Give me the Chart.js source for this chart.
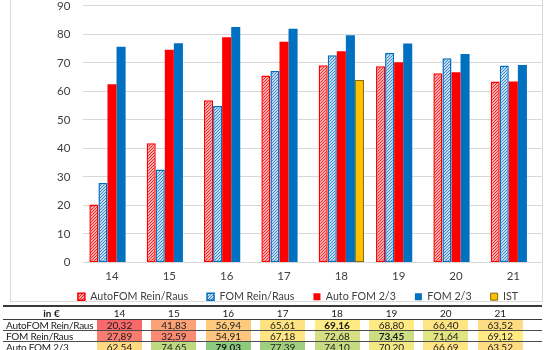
<!DOCTYPE html>
<html>
<head>
<meta charset="utf-8">
<script src="https://cdn.jsdelivr.net/npm/chart.js@4.4.0/dist/chart.umd.min.js"></script>
<style>
  html, body { margin: 0; padding: 0; width: 550px; height: 350px; overflow: hidden; background: #fff; font-family: Lato, sans-serif; }
  #frame { position: absolute; left: 10px; top: -2px; width: 533px; height: 304px; border: 1px solid #d9d9d9; box-sizing: border-box; }
  #chart { position: absolute; left: 0; top: -14px; z-index: 2; }
  #tbl { position: absolute; left: 3px; top: 305px; border-collapse: collapse; font-size: 10px; color: #1a1a1a; z-index: 3; }
  #tbl td { padding: 0; height: 10px; line-height: 10px; border-bottom: 1px solid #4d4d4d; white-space: nowrap; }
  #tbl tr.head td { height: 12px; line-height: 12px; border-top: 2px solid #3a3a3a; border-bottom: 1.5px solid #3a3a3a; }
  #tbl td.lbl { width: 94px; padding-left: 3px; box-sizing: border-box; letter-spacing: -0.25px; }
  #tbl tr.head td.lbl { text-align: center; font-weight: bold; letter-spacing: 0; }
  #tbl td.val { width: 54.4px; }
  #tbl td.val div { width: 45px; text-align: center; }
  #tbl td.tail { width: 10px; }
</style>
</head>
<body>
<div id="frame"></div>
<canvas id="chart" width="550" height="344"></canvas>
<table id="tbl"></table>
<script>
// data
const categories = ['14', '15', '16', '17', '18', '19', '20', '21'];
const seriesNames = ['AutoFOM Rein/Raus', 'FOM Rein/Raus', 'Auto FOM 2/3', 'FOM 2/3', 'IST'];
const autoFomReinRaus = [20.32, 41.83, 56.94, 65.61, 69.16, 68.80, 66.40, 63.52];
const fomReinRaus = [27.89, 32.59, 54.91, 67.18, 72.68, 73.45, 71.64, 69.12];
const autoFom23 = [62.54, 74.65, 79.03, 77.39, 74.10, 70.20, 66.69, 63.52];
const fom23 = [75.7, 76.9, 82.6, 82.0, 79.7, 76.8, 73.1, 69.3];
const ist = [null, null, null, null, 64.0, null, null, null];
const yTicks = [0, 10, 20, 30, 40, 50, 60, 70, 80, 90];
const tableHeader = 'in €';

const RED = '#ff0000';
const BLUE = '#0070c0';
const GOLD = '#ffc000';
const TXT = '#404040';

// small diagonal hatch like the excel pattern fill
function hatch(line, bg) {
  const c = document.createElement('canvas');
  c.width = 3; c.height = 3;
  const g = c.getContext('2d');
  g.fillStyle = bg;
  g.fillRect(0, 0, 3, 3);
  g.fillStyle = line;
  for (let i = 0; i < 3; i++) {
    g.fillRect(i, 2 - i, 1, 1);
  }
  return g.createPattern(c, 'repeat');
}

// legend sits closer to the axis labels and a little right of where chart.js puts it
const moveLegend = {
  id: 'moveLegend',
  afterLayout(chart) {
    const lg = chart.legend;
    lg.top -= 18;
    lg.bottom -= 18;
    lg.left += 5;
    lg.right += 5;
  }
};

const tickFont = { family: 'Lato', size: 11.5 };
const legendFont = { family: 'Lato', size: 10.7 };

new Chart(document.getElementById('chart'), {
  type: 'bar',
  data: {
    labels: categories,
    datasets: [
      { label: seriesNames[0], data: autoFomReinRaus, backgroundColor: hatch('#ff2020', '#f9b0b0'), borderColor: RED, borderWidth: 1.5, borderSkipped: false },
      { label: seriesNames[1], data: fomReinRaus, backgroundColor: hatch('#3a86cc', '#c4dcf0'), borderColor: BLUE, borderWidth: 1.5, borderSkipped: false },
      { label: seriesNames[2], data: autoFom23, backgroundColor: RED, borderWidth: 0 },
      { label: seriesNames[3], data: fom23, backgroundColor: BLUE, borderWidth: 0 },
      { label: seriesNames[4], data: ist, backgroundColor: GOLD, borderColor: '#8a6a00', borderWidth: 1, borderSkipped: false }
    ].map(d => Object.assign(d, { categoryPercentage: 0.79, barPercentage: 1 }))
  },
  options: {
    responsive: false,
    animation: false,
    layout: { padding: { left: 44, right: 8, top: 0, bottom: 0 } },
    scales: {
      x: {
        grid: { display: false, drawTicks: false },
        border: { display: false },
        ticks: { color: TXT, font: tickFont, padding: 7 }
      },
      y: {
        min: 0,
        max: 90,
        afterBuildTicks: (s) => { s.ticks = yTicks.map(v => ({ value: v })); },
        grid: { color: '#d9d9d9', drawTicks: false },
        border: { display: false },
        ticks: { color: TXT, font: tickFont, padding: 13 }
      }
    },
    plugins: {
      legend: {
        position: 'bottom',
        labels: { boxWidth: 7, boxHeight: 7, padding: 19, color: TXT, font: legendFont }
      },
      tooltip: { enabled: false }
    }
  },
  plugins: [moveLegend]
});

// table below the chart, excel style 3 colour scale
const tableRows = [autoFomReinRaus, fomReinRaus, autoFom23, fom23, ist];
const allVals = tableRows.flat().filter(v => v != null).sort((a, b) => a - b);
const vMin = allVals[0];
const vMax = allVals[allVals.length - 1];
const vMid = allVals[Math.floor(allVals.length / 2)];

function mix(a, b, t) {
  return a.map((c, i) => Math.round(c + (b[i] - c) * t));
}
function scaleColor(v) {
  const r = [248, 105, 107], y = [255, 235, 132], g = [99, 190, 123];
  const c = v <= vMid ? mix(r, y, (v - vMin) / (vMid - vMin)) : mix(y, g, (v - vMid) / (vMax - vMid));
  return 'rgb(' + c.join(',') + ')';
}
function fmt(v) {
  return v.toFixed(2).replace('.', ',');
}

let html = '<tr class="head"><td class="lbl">' + tableHeader + '</td>';
categories.forEach(c => { html += '<td class="val"><div>' + c + '</div></td>'; });
html += '<td class="tail"></td></tr>';
tableRows.forEach((row, ri) => {
  const rowMax = Math.max(...row.filter(v => v != null));
  html += '<tr><td class="lbl">' + seriesNames[ri] + '</td>';
  row.forEach(v => {
    if (v == null) { html += '<td class="val"><div></div></td>'; return; }
    const bold = v === rowMax ? 'font-weight:bold;' : '';
    html += '<td class="val"><div style="background:' + scaleColor(v) + ';' + bold + '">' + fmt(v) + '</div></td>';
  });
  html += '<td class="tail"></td></tr>';
});
document.getElementById('tbl').innerHTML = html;
</script>
</body>
</html>
